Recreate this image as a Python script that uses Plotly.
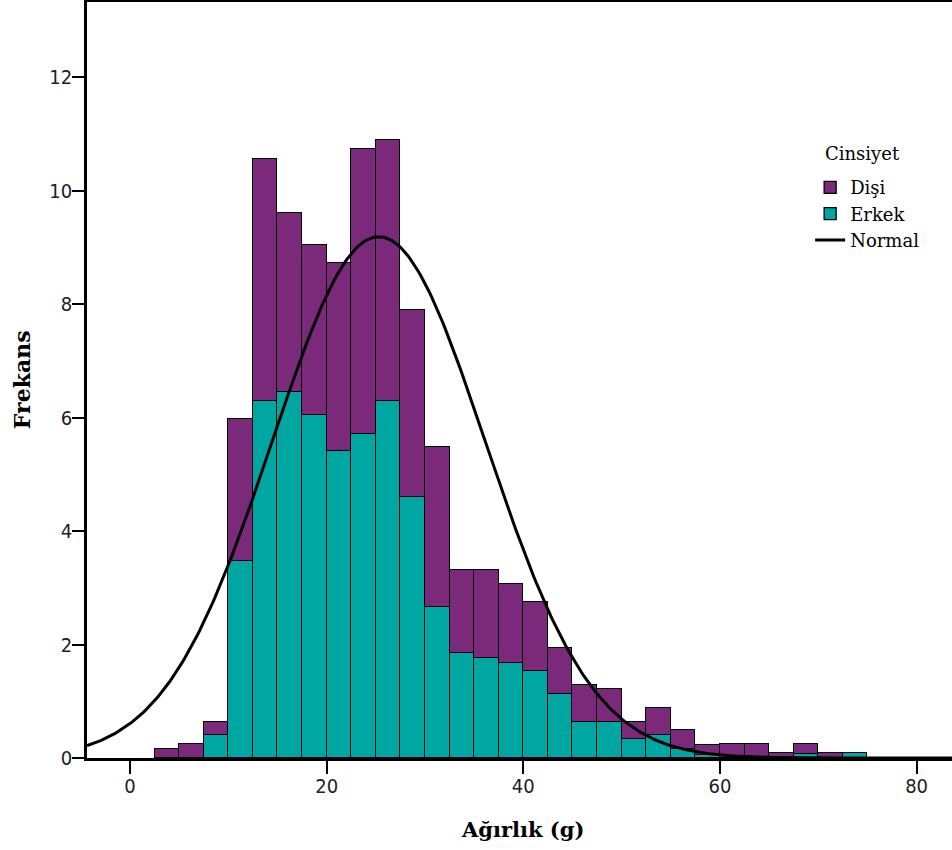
import numpy as np
import plotly.graph_objects as go

# ---- data ----
bin_left = [2.5, 5, 7.5, 10, 12.5, 15, 17.5, 20, 22.5, 25, 27.5, 30, 32.5, 35, 37.5,
            40, 42.5, 45, 47.5, 50, 52.5, 55, 57.5, 60, 62.5, 65, 67.5, 70, 72.5]
bin_width = 2.5
erkek = [0, 0, 0.40, 3.47, 6.30, 6.45, 6.05, 5.41, 5.72, 6.29, 4.60, 2.66, 1.85, 1.77, 1.68,
         1.53, 1.12, 0.63, 0.63, 0.33, 0.40, 0.16, 0.05, 0, 0, 0, 0.07, 0, 0.09]
disi = [0.16, 0.24, 0.24, 2.50, 4.27, 3.16, 3.00, 3.31, 5.02, 4.61, 3.30, 2.83, 1.47, 1.55, 1.39,
        1.22, 0.82, 0.66, 0.59, 0.31, 0.49, 0.33, 0.18, 0.24, 0.24, 0.08, 0.17, 0.09, 0.0]
# fitted normal curve parameters
normal_mean = 25.3
normal_sd = 10.85
normal_total = 100.0

x_ticks = [0, 20, 40, 60, 80]
y_ticks = [0, 2, 4, 6, 8, 10, 12]
x_range = [-4.37, 83.6]
y_range = [0, 13.33]

PURPLE = "#7B297A"
TEAL = "#00A6A1"

centers = [b + bin_width / 2 for b in bin_left]

xc = np.linspace(x_range[0], x_range[1], 400)
yc = normal_total * bin_width / (normal_sd * np.sqrt(2 * np.pi)) * np.exp(-0.5 * ((xc - normal_mean) / normal_sd) ** 2)

fig = go.Figure()
fig.add_trace(go.Bar(x=centers, y=erkek, width=bin_width, name="Erkek",
                     marker=dict(color=TEAL, line=dict(color="black", width=1.3)),
                     legendrank=2))
fig.add_trace(go.Bar(x=centers, y=disi, width=bin_width, name="Dişi",
                     marker=dict(color=PURPLE, line=dict(color="black", width=1.3)),
                     legendrank=1))
fig.add_trace(go.Scatter(x=xc, y=yc, mode="lines", name="Normal",
                         line=dict(color="black", width=3), legendrank=3))

serif = "DejaVu Serif, Liberation Serif, serif"
narrow = "Liberation Sans Narrow, DejaVu Sans Condensed, Arial Narrow, sans-serif"

fig.update_layout(
    width=952, height=850,
    margin=dict(l=87, r=0, t=2, b=92, pad=0),
    paper_bgcolor="white", plot_bgcolor="white",
    barmode="stack", bargap=0,
    showlegend=True,
    legend=dict(x=0.836, y=0.779, xanchor="left", yanchor="top",
                font=dict(family=serif, size=18, color="black"),
                bgcolor="rgba(0,0,0,0)", traceorder="normal"),
    xaxis=dict(range=x_range, tickmode="array", tickvals=x_ticks, ticks="outside",
               ticklen=13, tickwidth=2, tickcolor="black", ticklabelstandoff=-5,
               showline=True, linecolor="black", linewidth=2.5, mirror=True,
               showgrid=False, zeroline=False,
               tickfont=dict(family=narrow, size=20, color="#222")),
    yaxis=dict(range=y_range, tickmode="array", tickvals=y_ticks, ticks="outside",
               ticklen=12, tickwidth=2, tickcolor="black", ticklabelstandoff=-4,
               showline=True, linecolor="black", linewidth=2.5, mirror=False,
               showgrid=False, zeroline=False,
               tickfont=dict(family=narrow, size=20, color="#222")),
    annotations=[
        dict(text="<b>Frekans</b>", xref="paper", yref="paper",
             x=-0.075, y=0.5, xanchor="center", yanchor="middle",
             showarrow=False, textangle=-90,
             font=dict(family=serif, size=22, color="black")),
        dict(text="<b>Ağırlık (g)</b>", xref="paper", yref="paper",
             x=0.504, y=0, xanchor="center", yanchor="middle", yshift=-71, showarrow=False,
             font=dict(family=serif, size=21, color="black")),
        dict(text="Cinsiyet", xref="paper", yref="paper",
             x=0.851, y=0.8, xanchor="left", yanchor="middle", showarrow=False,
             font=dict(family=serif, size=18, color="black")),
    ],
)

fig.write_html("out.html", config={"displayModeBar": False},
               post_script="document.body.style.margin='0';")
